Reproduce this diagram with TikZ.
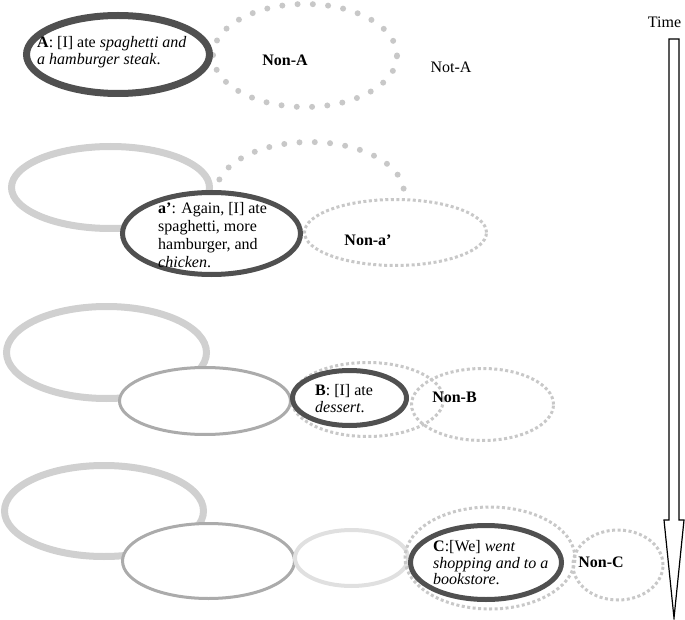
\documentclass[tikz,border=0pt]{standalone}
\usepackage{fontspec}
\setmainfont{Liberation Serif}
\usetikzlibrary{shapes.geometric}
\definecolor{darkring}{HTML}{505050}
\definecolor{palering}{HTML}{D0D0D0}
\definecolor{midring}{HTML}{ABABAB}
\definecolor{lightring}{HTML}{E0E0E0}
\definecolor{dotgray}{HTML}{C8C8C8}
\tikzset{
  ring/.style={ellipse, inner sep=0pt, outer sep=0pt},
  rsize/.style 2 args={minimum width=#1pt, minimum height=#2pt},
  mainring/.style={ring, draw=darkring, fill=white, line width=5pt},
  oldring/.style={ring, draw=palering, line width=7pt},
  midold/.style={ring, draw=midring, fill=white, line width=3pt},
  lightold/.style={ring, draw=lightring, fill=white, line width=4pt},
  bigdots/.style={draw=dotgray, line width=6pt, line cap=round, dash pattern=on 0pt off 15.3pt},
  smalldots/.style={ring, draw=dotgray, line width=3pt, dash pattern=on 3pt off 2.5pt},
  txt/.style={inner sep=0pt, font=\fontsize{16}{17}\selectfont, align=left},
  lbl/.style={inner sep=0pt, font=\fontsize{16}{17}\selectfont\bfseries},
  timearrow/.style={draw=black, line width=1.2pt, fill=white, line join=miter}
}
\begin{document}
\begin{tikzpicture}[x=1pt, y=-1pt]
\useasboundingbox (0,0) rectangle (685,620);

% ---------- row 1 ----------
\node[ring, bigdots, rsize={184}{103}] (nonA) at (305,55.5) {};
\node[mainring, line width=7pt, rsize={183}{78}] (A) at (118,54.5) {};
\node[txt, anchor=west] (Atext) at (37,52)
  {\textbf{A}: [I] ate \textit{spaghetti and}\\\textit{a hamburger steak}.};
\node[lbl] (nonAlbl) at (285,60) {Non-A};
\node[txt] (notA) at (451,67) {Not-A};

% ---------- row 2 ----------
\node[oldring, rsize={198}{82}] (old2) at (110.5,187.5) {};
\coordinate (arcstart) at (403.6,188.6);
\draw[bigdots] (arcstart) arc[start angle=-5, end angle=-168, x radius=94, y radius=51];
\node[smalldots, rsize={182}{66}] (nonap) at (395.5,232.5) {};
\node[mainring, rsize={178}{82}] (ap) at (211.5,233.5) {};
\node[txt, anchor=west, font=\fontsize{16}{18}\selectfont] (aptext) at (158,235)
  {\textbf{a’}: Again, [I] ate\\spaghetti, more\\hamburger, and\\\textit{chicken}.};
\node[lbl] (nonaplbl) at (368,240) {Non-a’};

% ---------- row 3 ----------
\node[oldring, rsize={200}{92}] (old3) at (106.5,352.5) {};
\node[midold, rsize={171}{67}] (mid3) at (205,401) {};
\node[smalldots, rsize={152}{74}] (prevB) at (367.5,399.5) {};
\node[smalldots, rsize={142}{72}] (nonB) at (482.5,404.5) {};
\node[mainring, rsize={114}{55}] (B) at (349.5,398) {};
\node[txt, anchor=west] (Btext) at (315,399) {\textbf{B}: [I] ate\\\textit{dessert}.};
\node[lbl] (nonBlbl) at (454.5,397) {Non-B};

% ---------- row 4 ----------
\node[oldring, rsize={199}{91}] (old4) at (104,511) {};
\node[midold, rsize={172}{75}] (mid4) at (208.5,561) {};
\node[lightold, rsize={113}{56}] (light4) at (351.5,558) {};
\node[smalldots, rsize={170}{102}] (prevC) at (490,558) {};
\node[smalldots, rsize={90}{70}] (nonC) at (618,565) {};
\node[mainring, rsize={151}{74}] (C) at (486,562.5) {};
\node[txt, anchor=west, font=\fontsize{16}{16.5}\selectfont] (Ctext) at (433,563)
  {\textbf{C}:[We] \textit{went}\\\textit{shopping and to a}\\\textit{bookstore}.};
\node[lbl] (nonClbl) at (601,562) {Non-C};

% ---------- time arrow ----------
\node[txt] (time) at (664.5,22) {Time};
\draw[timearrow] (669,39) -- (679,39) -- (679,520) -- (684,520) -- (674,618)
  -- (664,520) -- (669,520) -- cycle;
\end{tikzpicture}
\end{document}
